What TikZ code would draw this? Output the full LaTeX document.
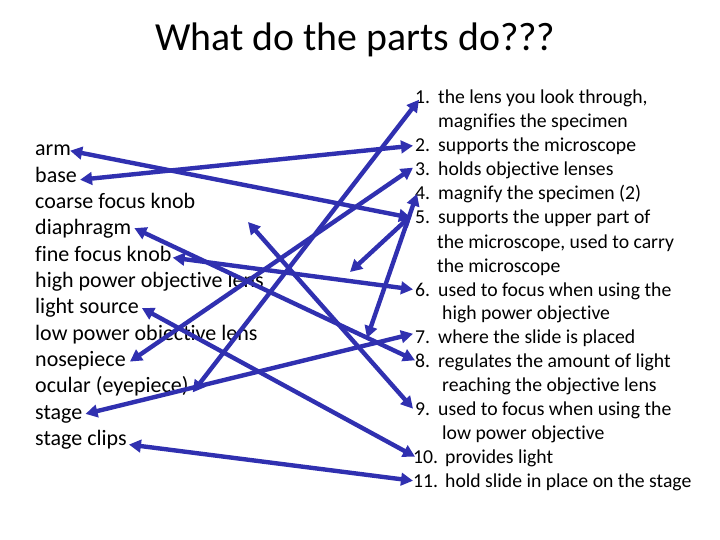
\documentclass[tikz,border=0pt]{standalone}
\usepackage{fontspec}
\setmainfont{Carlito}[Ligatures=NoCommon]
\usetikzlibrary{arrows.meta}
\definecolor{arrblue}{RGB}{48,48,176}
\begin{document}
\begin{tikzpicture}[x=1pt,y=-1pt,
  lt/.style={anchor=base west,inner sep=0pt,font=\fontsize{22}{26}\selectfont},
  rt/.style={anchor=base west,inner sep=0pt,font=\fontsize{19.7}{24}\selectfont},
  arr/.style={draw=arrblue,line width=4.4pt,
    {Triangle[length=12pt,width=12.5pt]}-{Triangle[length=12pt,width=12.5pt]}}]
\fill[white] (0,0) rectangle (720,540);
\useasboundingbox (0,0) rectangle (720,540);
% title
\node[anchor=base west,inner sep=0pt,font=\fontsize{39.8}{47}\selectfont] (title) at (155,51) {What do the parts do???};
% left list
\node[lt] (arm)     at (35,156.0) {arm};
\node[lt] (base)    at (35,182.3) {base};
\node[lt] (coarse)  at (35,208.6) {coarse focus knob};
\node[lt] (diaph)   at (35,234.9) {diaphragm};
\node[lt] (fine)    at (35,261.2) {fine focus knob};
\node[lt] (high)    at (35,287.5) {high power objective lens};
\node[lt] (light)   at (35,313.8) {light source};
\node[lt] (low)     at (35,340.1) {low power objective lens};
\node[lt] (nose)    at (35,366.4) {nosepiece};
\node[lt] (ocular)  at (35,392.7) {ocular (eyepiece)};
\node[lt] (stage)   at (35,419.0) {stage};
\node[lt] (clips)   at (35,445.3) {stage clips};
% right list
\node[rt] (n1) at (415,104) {1.};  \node[rt] (t1) at (438,104) {the lens you look through,};
\node[rt] (t1b) at (438,128) {magnifies the specimen};
\node[rt] (n2) at (415,152) {2.};  \node[rt] (t2) at (438,152) {supports the microscope};
\node[rt] (n3) at (415,176) {3.};  \node[rt] (t3) at (438,176) {holds objective lenses};
\node[rt] (n4) at (415,200) {4.};  \node[rt] (t4) at (438,200) {magnify the specimen (2)};
\node[rt] (n5) at (415,224) {5.};  \node[rt] (t5) at (438,224) {supports the upper part of};
\node[rt] (t5b) at (437,248) {the microscope, used to carry};
\node[rt] (t5c) at (437,272) {the microscope};
\node[rt] (n6) at (415,296) {6.};  \node[rt] (t6) at (438,296) {used to focus when using the};
\node[rt] (t6b) at (442,319) {high power objective};
\node[rt] (n7) at (415,343) {7.};  \node[rt] (t7) at (438,343) {where the slide is placed};
\node[rt] (n8) at (415,367) {8.};  \node[rt] (t8) at (438,367) {regulates the amount of light};
\node[rt] (t8b) at (442,391) {reaching the objective lens};
\node[rt] (n9) at (415,415) {9.};  \node[rt] (t9) at (438,415) {used to focus when using the};
\node[rt] (t9b) at (442,439) {low power objective};
\node[rt] (n10) at (413,463) {10.}; \node[rt] (t10) at (445,463) {provides light};
\node[rt] (n11) at (413,487) {11.}; \node[rt] (t11) at (445,487) {hold slide in place on the stage};
% free ends
\coordinate (f1) at (248,222);
\coordinate (f2) at (350,272);
\coordinate (f3) at (367,338);
% connectors
\draw[arr] ([shift={(-1,0)}]arm.east) -- ([shift={(-4,0)}]n5.west);
\draw[arr] ([shift={(3,5)}]base.east) -- ([shift={(-2,0)}]n2.west);
\draw[arr] ([shift={(3,-1)}]diaph.east) -- ([shift={(0,0)}]n8.west);
\draw[arr] ([shift={(1,4)}]fine.east) -- ([shift={(-2,0)}]n6.west);
\draw[arr] (f1) -- ([shift={(-2,0)}]n9.west);
\draw[arr] (f2) -- ([shift={(-3,-3)}]n5.west);
\draw[arr] (f3) -- ([shift={(2,0)}]n4.west);
\draw[arr] ([shift={(4,2)}]n1.west) -- ([shift={(4,6)}]ocular.east);
\draw[arr] ([shift={(-2,-2)}]n3.west) -- ([shift={(4,1)}]nose.east);
\draw[arr] ([shift={(3,0)}]light.east) -- ([shift={(2,0)}]n10.west);
\draw[arr] ([shift={(3,0)}]stage.east) -- ([shift={(-2,-3)}]n7.west);
\draw[arr] ([shift={(2,5)}]clips.east) -- ([shift={(0,0)}]n11.west);
\end{tikzpicture}
\end{document}
